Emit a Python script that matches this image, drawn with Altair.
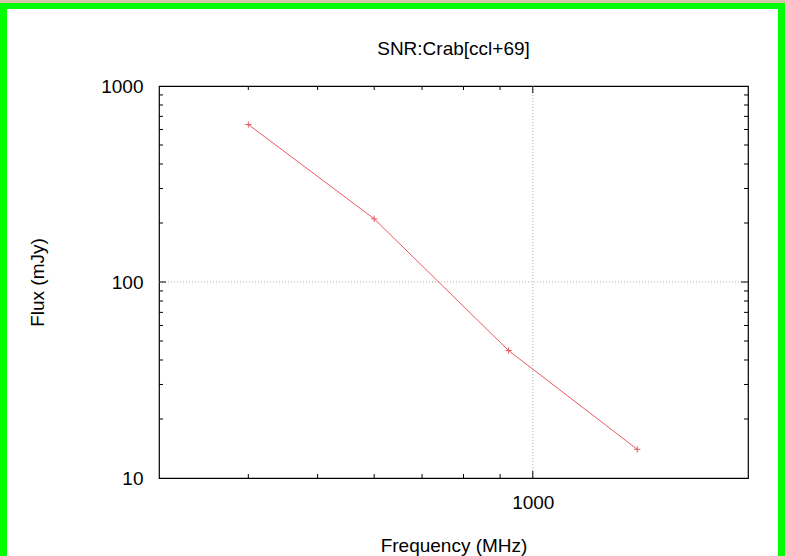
import altair as alt
import pandas as pd

# ---- data ----
freq_mhz = [400, 600, 925, 1400]
flux_mjy = [636, 210, 44.7, 14.0]

x_major_ticks = [1000]
x_minor_ticks = [400, 500, 600, 700, 800, 900]
y_major_ticks = [100]
y_minor_ticks = [20, 30, 40, 50, 60, 70, 80, 90, 200, 300, 400, 500, 600, 700, 800, 900]
x_labels = [1000]
y_labels = [10, 100, 1000]

title_text = "SNR:Crab[ccl+69]"
x_title = "Frequency (MHz)"
y_title = "Flux (mJy)"

# ---- layout ----
W, H = 589, 392
PAD = {"left": 159, "top": 86, "right": 37, "bottom": 78}
FONT = "Liberation Sans"
FS = 19
LINE = "#e85a5e"
GREEN = "#00ff00"
MAJ, MIN = 7, 4

xs = alt.Scale(type="log", domain=[300, 2000], nice=False)
ys = alt.Scale(type="log", domain=[10, 1000], nice=False)

df = pd.DataFrame({"f": freq_mhz, "s": flux_mjy})
one = pd.DataFrame({"a": [0]})

xaxis = alt.Axis(values=x_labels, format="d", ticks=False, domain=False, grid=False,
                 labelPadding=15, titlePadding=24, labelFontSize=FS, titleFontSize=FS,
                 labelFont=FONT, titleFont=FONT, labelColor="black", titleColor="black",
                 titleFontWeight="normal", title=x_title)
yaxis = alt.Axis(values=y_labels, format="d", ticks=False, domain=False, grid=False,
                 labelPadding=16, titlePadding=53, labelFontSize=FS, titleFontSize=FS,
                 labelFont=FONT, titleFont=FONT, labelColor="black", titleColor="black",
                 titleFontWeight="normal", title=y_title)

L0, R0 = -PAD["left"], W + PAD["right"]
T0, B0 = -PAD["top"], H + PAD["bottom"]

# decorative page frame: tan strip at the top, green border left/top/right
def band(x1, x2, y1, y2, color):
    return alt.Chart(one).mark_rect(color=color).encode(
        x=alt.value(x1), x2=alt.value(x2), y=alt.value(y1), y2=alt.value(y2))

frame = [
    band(L0, R0, T0, T0 + 3, "#d4c5a6"),
    band(L0, R0, T0 + 3, T0 + 9, GREEN),
    band(L0, L0 + 7, T0 + 3, B0, GREEN),
    band(R0 - 7, R0, T0 + 3, B0, GREEN),
]

# grid
gx = alt.Chart(pd.DataFrame({"v": x_major_ticks})).mark_rule(
    color="#b0b0b0", strokeDash=[1, 2], strokeWidth=1).encode(
    x=alt.X("v:Q", scale=xs, axis=xaxis), y=alt.value(0), y2=alt.value(H))
gy = alt.Chart(pd.DataFrame({"v": y_major_ticks})).mark_rule(
    color="#b0b0b0", strokeDash=[1, 2], strokeWidth=1).encode(
    y=alt.Y("v:Q", scale=ys, axis=yaxis), x=alt.value(0), x2=alt.value(W))

def xticks(vals, L):
    d = pd.DataFrame({"v": vals})
    bot = alt.Chart(d).mark_rule(color="black").encode(
        x=alt.X("v:Q", scale=xs), y=alt.value(H), y2=alt.value(H - L))
    top = alt.Chart(d).mark_rule(color="black").encode(
        x=alt.X("v:Q", scale=xs), y=alt.value(0), y2=alt.value(L))
    return [bot, top]

def yticks(vals, L):
    d = pd.DataFrame({"v": vals})
    left = alt.Chart(d).mark_rule(color="black").encode(
        y=alt.Y("v:Q", scale=ys), x=alt.value(0), x2=alt.value(L))
    right = alt.Chart(d).mark_rule(color="black").encode(
        y=alt.Y("v:Q", scale=ys), x=alt.value(W), x2=alt.value(W - L))
    return [left, right]

ticks = xticks(x_major_ticks, MAJ) + xticks(x_minor_ticks, MIN) + \
        yticks(y_major_ticks, MAJ) + yticks(y_minor_ticks, MIN)

base = alt.Chart(df)
line = base.mark_line(color=LINE, strokeWidth=1).encode(
    x=alt.X("f:Q", scale=xs), y=alt.Y("s:Q", scale=ys))
pts = base.mark_point(shape="M-1,0L1,0M0,-1L0,1", size=40, filled=False,
                      color=LINE, strokeWidth=1, opacity=1).encode(
    x=alt.X("f:Q", scale=xs), y=alt.Y("s:Q", scale=ys))

chart = alt.layer(*frame, gx, gy, *ticks, line, pts).properties(
    width=W, height=H,
    padding=PAD,
    autosize=alt.AutoSizeParams(type="none"),
    background="white",
    title=alt.TitleParams(title_text, font=FONT, fontSize=FS, fontWeight="normal",
                          color="black", anchor="middle", frame="group", offset=-59),
).configure_view(stroke="black", strokeWidth=1.2)

chart.save("out.html", embed_options={"renderer": "svg", "actions": False})
